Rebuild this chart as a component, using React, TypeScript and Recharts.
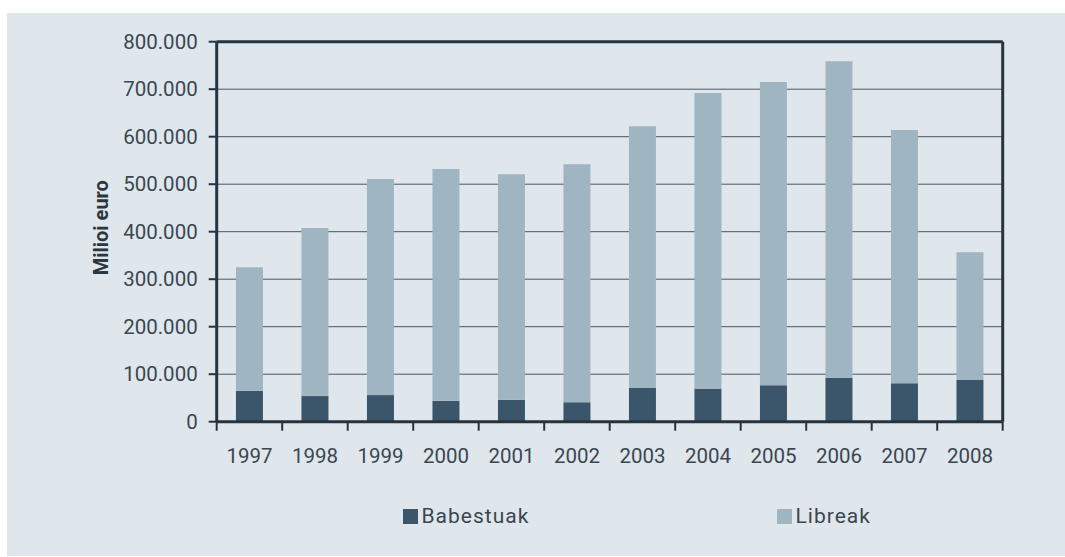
import React from 'react';
import { BarChart, Bar, XAxis, YAxis, CartesianGrid, ReferenceLine, Legend } from 'recharts';

const years = ['1997', '1998', '1999', '2000', '2001', '2002', '2003', '2004', '2005', '2006', '2007', '2008'];
const babestuak = [65000, 54000, 56000, 44000, 46000, 41000, 71000, 69000, 77000, 92000, 81000, 88000];
const libreak = [260000, 354000, 455000, 488000, 475000, 501000, 551000, 623000, 638000, 667000, 533000, 269000];
const yTicks = [0, 100000, 200000, 300000, 400000, 500000, 600000, 700000, 800000];
const seriesNames = ['Babestuak', 'Libreak'];

const data = years.map((y, i) => ({ year: y, babestuak: babestuak[i], libreak: libreak[i] }));

const DARK = '#3b566a';
const LIGHT = '#9fb6c2';
const AXIS = '#26343f';
const TEXT = '#3a4650';
const BG = '#dfe6ec';
const FONT = 'Roboto, sans-serif';

const X_TICK_SIZE = 9;
const X_TICK_MARGIN = 17.7;

const fmt = (v: number) => String(v).replace(/\B(?=(\d{3})+(?!\d))/g, '.');

const YTitle = (props: any) => {
  const vb = props.viewBox || {};
  const cx = vb.x + vb.width / 2 - 11;
  const cy = vb.y + vb.height / 2 - 4;
  return (
    <text
      x={cx}
      y={cy}
      dy="0.355em"
      transform={`rotate(-90 ${cx} ${cy})`}
      textAnchor="middle"
      fontFamily={FONT}
      fontWeight={700}
      fontSize={20}
      fill="#2a3640"
    >
      Milioi euro
    </text>
  );
};

const XTick = (props: any) => {
  const { x, y, payload, index, width, visibleTicksCount } = props;
  const band = width / visibleTicksCount;
  const yTop = y - X_TICK_MARGIN - X_TICK_SIZE;
  const yBot = y - X_TICK_MARGIN;
  const isLast = index === visibleTicksCount - 1;
  return (
    <g>
      <line x1={x - band / 2} x2={x - band / 2} y1={yTop} y2={yBot} stroke={AXIS} strokeWidth={2} />
      {isLast && <line x1={x + band / 2} x2={x + band / 2} y1={yTop} y2={yBot} stroke={AXIS} strokeWidth={2} />}
      <text x={x} y={y} dy="0.71em" textAnchor="middle" fill={TEXT} fontSize={20.5} fontFamily={FONT}>
        {payload.value}
      </text>
    </g>
  );
};

const legendLefts = [396, 770];
const legendColors = [DARK, LIGHT];

const renderLegend = () => (
  <div style={{ position: 'relative', width: 1058, height: 30 }}>
    {seriesNames.map((name, i) => (
      <div
        key={name}
        style={{ position: 'absolute', left: legendLefts[i], top: 0, display: 'flex', alignItems: 'flex-start' }}
      >
        <div style={{ width: 14.5, height: 14.5, background: legendColors[i] }} />
        <span
          style={{
            marginLeft: 4,
            fontFamily: FONT,
            fontSize: 21,
            lineHeight: '15px',
            color: TEXT,
            letterSpacing: 1,
            whiteSpace: 'nowrap',
          }}
        >
          {name}
        </span>
      </div>
    ))}
  </div>
);

export default function App() {
  return (
    <div style={{ position: 'absolute', left: 7, top: 13, width: 1058, height: 543, background: BG }}>
      <BarChart
        width={1058}
        height={543}
        data={data}
        margin={{ top: 28.7, right: 61.3, bottom: 74.3, left: 0 }}
        barCategoryGap="29.4%"
        style={{ fontFamily: FONT }}
      >
        <CartesianGrid horizontal vertical={false} stroke="#4a5761" strokeWidth={1} />
        <XAxis
          dataKey="year"
          height={60}
          stroke={AXIS}
          strokeWidth={3}
          axisLine
          tickLine={false}
          tickSize={X_TICK_SIZE}
          tickMargin={X_TICK_MARGIN}
          interval={0}
          tick={<XTick />}
        />
        <YAxis
          width={209.7}
          domain={[0, yTicks[yTicks.length - 1]]}
          ticks={yTicks}
          interval={0}
          tickFormatter={fmt}
          stroke={AXIS}
          strokeWidth={3}
          axisLine
          tickSize={8}
          tickMargin={11}
          tickLine={{ stroke: AXIS, strokeWidth: 2 }}
          tick={{ fill: TEXT, fontSize: 20.5, fontFamily: FONT, strokeWidth: 0 }}
          label={<YTitle />}
        />
        <YAxis
          yAxisId="r"
          orientation="right"
          width={1}
          domain={[0, yTicks[yTicks.length - 1]]}
          stroke={AXIS}
          strokeWidth={3}
          tick={false}
          tickLine={false}
          axisLine
        />
        <ReferenceLine y={yTicks[yTicks.length - 1]} stroke={AXIS} strokeWidth={3} />
        <Bar dataKey="babestuak" name={seriesNames[0]} stackId="a" fill={DARK} isAnimationActive={false} />
        <Bar dataKey="libreak" name={seriesNames[1]} stackId="a" fill={LIGHT} isAnimationActive={false} />
        <Legend
          layout="horizontal"
          verticalAlign="middle"
          align="center"
          content={renderLegend}
          wrapperStyle={{ left: 0, top: 496.3, width: 1058, height: 30 }}
        />
      </BarChart>
    </div>
  );
}
